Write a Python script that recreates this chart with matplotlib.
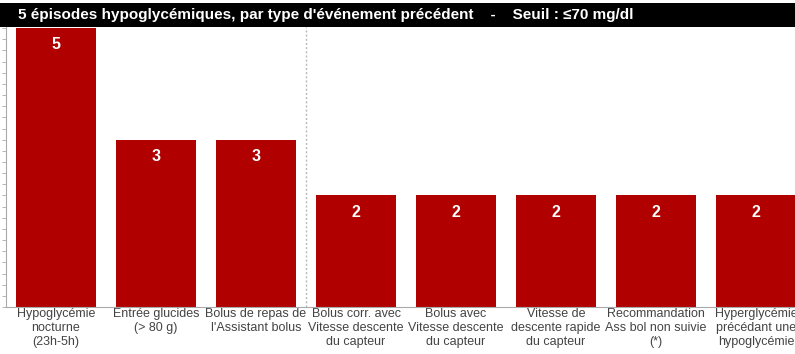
import matplotlib.pyplot as plt
from matplotlib.patches import Rectangle
from matplotlib.ticker import MultipleLocator

categories = [
    "Hypoglycémie\nnocturne\n(23h-5h)",
    "Entrée glucides\n(> 80 g)",
    "Bolus de repas de\nl'Assistant bolus",
    "Bolus corr. avec\nVitesse descente\ndu capteur",
    "Bolus avec\nVitesse descente\ndu capteur",
    "Vitesse de\ndescente rapide\ndu capteur",
    "Recommandation\nAss bol non suivie\n(*)",
    "Hyperglycémie\nprécédant une\nhypoglycémie",
]
episodes = [5, 3, 3, 2, 2, 2, 2, 2]
titre = "5 épisodes hypoglycémiques, par type d'événement précédent    -    Seuil : ≤70 mg/dl"

W, H = 795, 354
fig = plt.figure(figsize=(W / 100, H / 100), dpi=100)

# bandeau noir du titre
fig.patches.append(Rectangle((0, 1 - 27 / H), 1, 24 / H, transform=fig.transFigure,
                             facecolor="black", edgecolor="none", zorder=0))
fig.text(18 / W, 1 - 15 / H, titre, color="white", fontsize=11, fontweight="bold",
         family="Liberation Sans", va="center", ha="left")

ax = fig.add_axes([6 / W, 47 / H, 800 / W, 280 / H])
x = list(range(len(categories)))
barres = ax.bar(x, episodes, width=0.8, color="#b00000", zorder=2)
ax.set_xlim(-0.5, len(categories) - 0.5)
ax.set_ylim(0, 5.02)

for b, v in zip(barres, episodes):
    ax.text(b.get_x() + b.get_width() / 2, v - 0.3, str(v), color="white",
            fontsize=11.5, fontweight="bold", ha="center", va="center",
            family="Liberation Sans")

# séparation pointillée entre les groupes
ax.axvline(2.5, color="#b8b8b8", linestyle=(0, (1.5, 1.5)), linewidth=1, zorder=1)

ax.set_xticks(x)
ax.set_xticklabels(categories, fontsize=9, color="#444444", family="Liberation Sans",
                   linespacing=1.2)
ax.tick_params(axis="x", length=0, pad=1)
ax.yaxis.set_major_locator(MultipleLocator(0.2))
ax.tick_params(axis="y", length=3, width=0.6, color="#aaaaaa", labelleft=False)
for s in ["top", "right"]:
    ax.spines[s].set_visible(False)
ax.spines["left"].set_color("#aaaaaa")
ax.spines["bottom"].set_color("#aaaaaa")
ax.spines["left"].set_linewidth(0.8)
ax.spines["bottom"].set_linewidth(0.8)

fig.savefig("out.png", dpi=100)
